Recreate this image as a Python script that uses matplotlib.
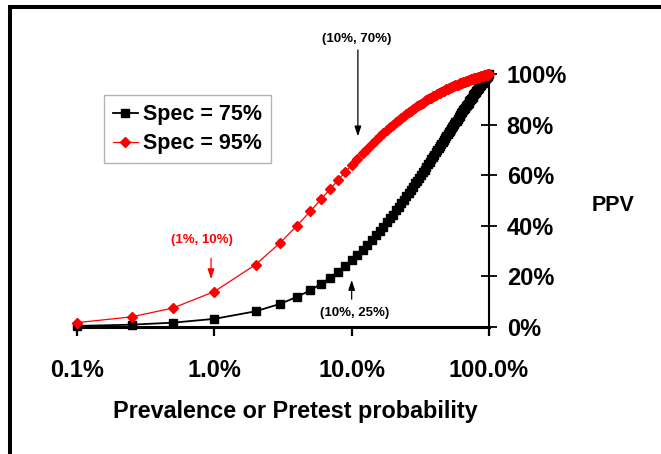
import matplotlib
matplotlib.use("Agg")
import matplotlib.pyplot as plt
from matplotlib.patches import Rectangle

plt.rcParams['font.family'] = ['Liberation Sans', 'DejaVu Sans']
plt.rcParams['font.weight'] = 'bold'

# Prevalence (%) — x values
prevalence = [0.1, 0.25, 0.5, 1, 2, 3, 4, 5, 6, 7, 8, 9, 10,
              11, 12, 13, 14, 15, 16, 17, 18, 19, 20,
              21, 22, 23, 24, 25, 26, 27, 28, 29, 30,
              31, 32, 33, 34, 35, 36, 37, 38, 39, 40,
              41, 42, 43, 44, 45, 46, 47, 48, 49, 50,
              51, 52, 53, 54, 55, 56, 57, 58, 59, 60,
              61, 62, 63, 64, 65, 66, 67, 68, 69, 70,
              71, 72, 73, 74, 75, 76, 77, 78, 79, 80,
              81, 82, 83, 84, 85, 86, 87, 88, 89, 90,
              91, 92, 93, 94, 95, 96, 97, 98, 99, 100]

# PPV (%) for Spec = 75%
ppv_spec75 = [0.3, 0.8, 1.6, 3.1, 6.1, 9.0, 11.8, 14.4, 17.0, 19.4, 21.8, 24.0, 26.2,
              28.3, 30.4, 32.3, 34.3, 36.1, 37.9, 39.6, 41.3, 42.9, 44.4,
              46.0, 47.4, 48.9, 50.3, 51.6, 52.9, 54.2, 55.4, 56.7, 57.8,
              59.0, 60.1, 61.2, 62.2, 63.3, 64.3, 65.3, 66.2, 67.2, 68.1,
              69.0, 69.9, 70.7, 71.5, 72.4, 73.2, 73.9, 74.7, 75.5, 76.2,
              76.9, 77.6, 78.3, 79.0, 79.6, 80.3, 80.9, 81.5, 82.2, 82.8,
              83.3, 83.9, 84.5, 85.0, 85.6, 86.1, 86.7, 87.2, 87.7, 88.2,
              88.7, 89.2, 89.6, 90.1, 90.6, 91.0, 91.5, 91.9, 92.3, 92.8,
              93.2, 93.6, 94.0, 94.4, 94.8, 95.2, 95.5, 95.9, 96.3, 96.6,
              97.0, 97.4, 97.7, 98.0, 98.4, 98.7, 99.0, 99.4, 99.7, 100.0]

# PPV (%) for Spec = 95%
ppv_spec95 = [1.6, 3.9, 7.4, 13.9, 24.6, 33.1, 40.0, 45.7, 50.5, 54.6, 58.2, 61.3, 64.0,
              66.4, 68.6, 70.5, 72.3, 73.8, 75.3, 76.6, 77.8, 79.0, 80.0,
              81.0, 81.9, 82.7, 83.5, 84.2, 84.9, 85.5, 86.2, 86.7, 87.3,
              87.8, 88.3, 88.7, 89.2, 89.6, 90.0, 90.4, 90.7, 91.1, 91.4,
              91.7, 92.1, 92.3, 92.6, 92.9, 93.2, 93.4, 93.7, 93.9, 94.1,
              94.3, 94.5, 94.7, 94.9, 95.1, 95.3, 95.5, 95.7, 95.8, 96.0,
              96.2, 96.3, 96.5, 96.6, 96.7, 96.9, 97.0, 97.1, 97.3, 97.4,
              97.5, 97.6, 97.7, 97.9, 98.0, 98.1, 98.2, 98.3, 98.4, 98.5,
              98.6, 98.6, 98.7, 98.8, 98.9, 99.0, 99.1, 99.2, 99.2, 99.3,
              99.4, 99.5, 99.5, 99.6, 99.7, 99.7, 99.8, 99.9, 99.9, 100.0]

series_labels = ["Spec = 75%", "Spec = 95%"]
x_ticks = [0.1, 1, 10, 100]
x_ticklabels = ["0.1%", "1.0%", "10.0%", "100.0%"]
y_ticks = [0, 20, 40, 60, 80, 100]
y_ticklabels = ["0%", "20%", "40%", "60%", "80%", "100%"]

W, H = 661, 454
fig = plt.figure(figsize=(W / 100, H / 100), dpi=100)
ax = fig.add_axes([77 / W, (H - 326.7) / H, (489 - 77) / W, (326.7 - 74) / H])

ax.plot(prevalence, ppv_spec75, color='black', lw=1.3, marker='s', ms=6.4,
        mfc='black', mec='black', label=series_labels[0], clip_on=False, zorder=3)
ax.plot(prevalence, ppv_spec95, color='#ff0000', lw=0.9, marker='D', ms=4.9,
        mfc='#ff0000', mec='#ff0000', label=series_labels[1], clip_on=False, zorder=4)

ax.set_xscale('log')
ax.set_xlim(0.1, 100)
ax.set_ylim(0, 100)
ax.minorticks_off()
ax.set_xticks(x_ticks)
ax.set_xticklabels(x_ticklabels)
ax.set_yticks(y_ticks)
ax.set_yticklabels(y_ticklabels)

ax.spines['top'].set_visible(False)
ax.spines['left'].set_visible(False)
ax.spines['bottom'].set_linewidth(2.2)
ax.spines['right'].set_linewidth(1.5)
ax.yaxis.tick_right()
ax.tick_params(axis='x', direction='out', length=6.5, width=1.6, pad=16.5,
               labelsize=17)
ax.tick_params(axis='y', direction='inout', length=11.5, width=1.3, pad=7,
               labelsize=17)
for lab in ax.get_xticklabels() + ax.get_yticklabels():
    lab.set_fontweight('bold')

# annotations
ax.text(10.9, 113.7, "(10%, 70%)", ha='center', va='center', fontsize=9.5,
        fontweight='bold', color='black', clip_on=False)
ax.annotate('', xy=(11.1, 75.3), xytext=(11.1, 109.5), annotation_clip=False,
            arrowprops=dict(arrowstyle='-|>,head_length=0.6,head_width=0.2',
                            color='black', lw=0.9, shrinkA=0, shrinkB=0))
ax.text(0.813, 34.4, "(1%, 10%)", ha='center', va='center', fontsize=9.5,
        fontweight='bold', color='#ff0000')
ax.annotate('', xy=(0.946, 18.8), xytext=(0.946, 27.1),
            arrowprops=dict(arrowstyle='-|>,head_length=0.6,head_width=0.2',
                            color='#ff0000', lw=0.9, shrinkA=0, shrinkB=0))
ax.text(10.5, 5.6, "(10%, 25%)", ha='center', va='center', fontsize=9.5,
        fontweight='bold', color='black')
ax.annotate('', xy=(10.0, 18.5), xytext=(10.0, 10.9),
            arrowprops=dict(arrowstyle='-|>,head_length=0.6,head_width=0.2',
                            color='black', lw=0.9, shrinkA=0, shrinkB=0))

# legend
leg = fig.legend(loc='upper left', bbox_to_anchor=(104 / W, 1 - 95 / H),
                 bbox_transform=fig.transFigure, fontsize=15.5, frameon=True,
                 fancybox=False, edgecolor='#a0a0a0', borderpad=0.42,
                 handlelength=1.15, handletextpad=0.25, labelspacing=0.38,
                 borderaxespad=0)
leg.get_frame().set_linewidth(1.0)
for t in leg.get_texts():
    t.set_fontweight('bold')

# axis titles
fig.text(295 / W, 1 - 418.3 / H, "Prevalence or Pretest probability",
         ha='center', va='baseline', fontsize=16.8, fontweight='bold')
fig.text(613 / W, 1 - 205 / H, "PPV", ha='center', va='center',
         fontsize=15.5, fontweight='bold')

# outer frame
fig.patches.append(Rectangle((10 / W, -0.2), 1.5, 1 - 7 / H + 0.2,
                             transform=fig.transFigure, fill=False,
                             edgecolor='black', linewidth=2.9))

fig.savefig('out.png', dpi=100)
